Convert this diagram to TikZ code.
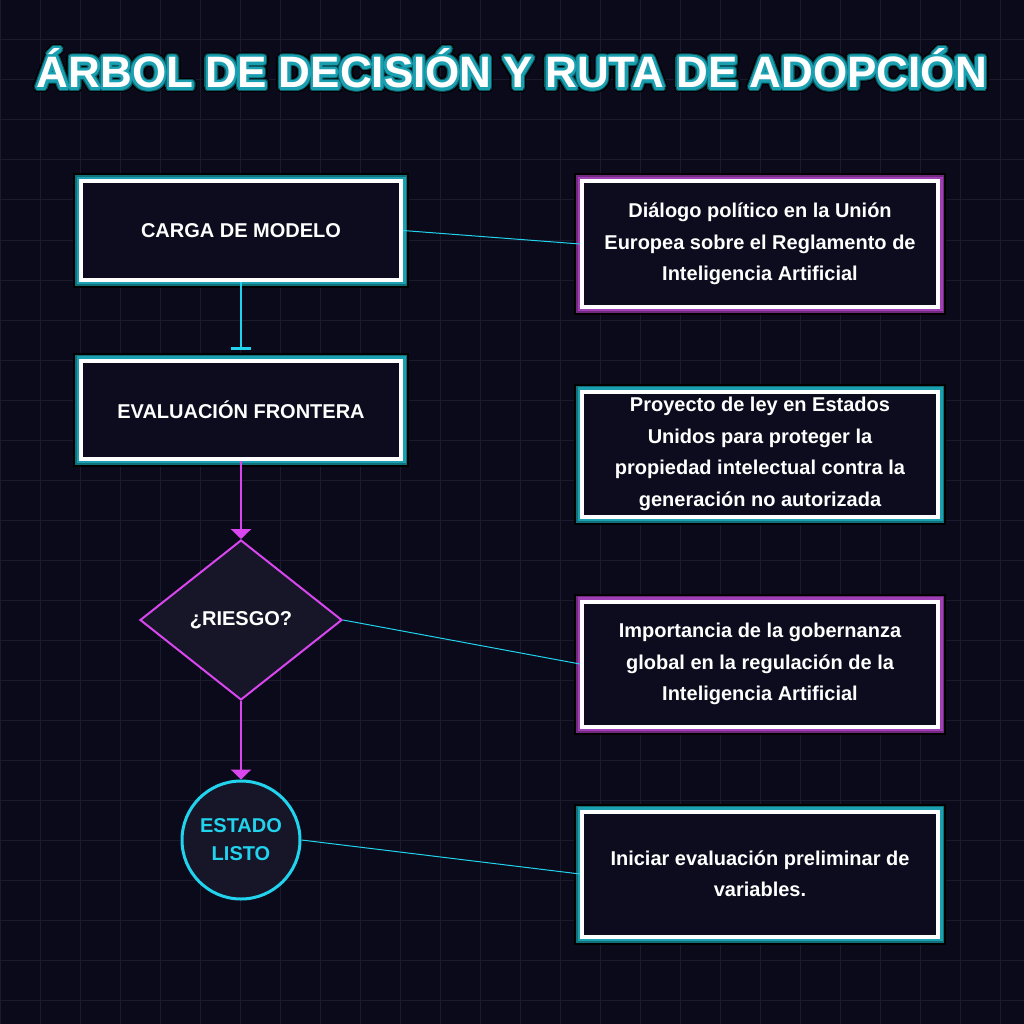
\documentclass[tikz,border=0pt]{standalone}
\usepackage{fontspec}
\setmainfont{Liberation Sans}
\usepackage{tikz}
\usetikzlibrary{calc}
\usetikzlibrary{arrows.meta}
\usetikzlibrary{shapes.geometric,positioning}
\definecolor{bgdark}{RGB}{10,10,26}
\definecolor{gridcol}{RGB}{27,27,45}
\definecolor{panel}{RGB}{12,12,30}
\definecolor{shapefill}{RGB}{22,22,40}
\definecolor{tealglow}{RGB}{26,160,176}
\definecolor{tealdk}{RGB}{11,92,102}
\definecolor{purpleglow}{RGB}{160,62,182}
\definecolor{purpledk}{RGB}{92,31,108}
\definecolor{neonpink}{RGB}{217,70,239}
\definecolor{neoncyan}{RGB}{34,211,238}
\newcommand{\titletext}{ÁRBOL DE DECISIÓN Y RUTA DE ADOPCIÓN}
\tikzset{
    gridline/.style={line width=1pt, gridcol},
    % cajas con brillo de neon
    glowbox/.style={
        rectangle, inner sep=0pt, align=center, text=white,
        font=\bfseries\fontsize{20}{31.5}\selectfont,
        fill=panel, draw=white, line width=4pt,
        preaction={draw=black, line width=16pt},
        preaction={draw=#1!70!black, line width=12pt},
        preaction={draw=#1, line width=9pt}
    },
    stepbox/.style={glowbox=tealglow, minimum width=320pt, minimum height=98pt},
    notebox/.style={glowbox=#1, minimum width=356pt, minimum height=125pt},
    pinkarrow/.style={
        line width=2.7pt, neonpink,
        -{Triangle[length=10pt, width=20pt]}
    },
    cyanbar/.style={
        line width=2.7pt, neoncyan,
        -{Bar[width=20pt, line width=2.7pt]}
    },
    thinlink/.style={line width=1pt, neoncyan}
}
\begin{document}
\begin{tikzpicture}[x=1pt, y=-1pt]
    \useasboundingbox (0,0) rectangle (1024,1024);
    \fill[bgdark] (0,0) rectangle (1024,1024);
    \foreach \g in {0,40,...,1000} {
        \draw[gridline] (\g,0) -- (\g,1024);
        \draw[gridline] (0,\g) -- (1024,\g);
    }

    % titulo
    \foreach \r/\c [count=\k] in {5/black, 3.6/tealdk, 2.4/tealglow} {
        \foreach \a in {0,20,...,340} {
            \node[anchor=base, text=\c, font=\bfseries\fontsize{44}{50}\selectfont]
                (tg\k-\a) at ($(512,88)+(\a:\r)$) {\titletext};
        }
    }
    \node[anchor=base, text=white, font=\bfseries\fontsize{44}{50}\selectfont]
        (title) at (512,88) {\titletext};

    \node[stepbox] (load) at (241,230.5) {CARGA DE MODELO};
    \node[stepbox] (eval) at (241,409.5) {EVALUACIÓN FRONTERA};
    \node[diamond, draw=neonpink, line width=2pt, fill=shapefill, inner sep=0pt,
          minimum width=202pt, minimum height=160pt, text=white,
          font=\bfseries\fontsize{20}{24}\selectfont] (risk) at (241,620) {¿RIESGO?};
    \node[circle, draw=neoncyan, line width=3pt, fill=shapefill, inner sep=0pt,
          minimum size=118pt, align=center, text=neoncyan,
          font=\bfseries\fontsize{20}{28}\selectfont] (ready) at (241,840) {ESTADO\\LISTO};

    \node[notebox=purpleglow] (note1) at (760,244)
        {Diálogo político en la Unión\\Europea sobre el Reglamento de\\Inteligencia Artificial};
    \node[notebox=tealglow] (note2) at (760,454)
        {Proyecto de ley en Estados\\Unidos para proteger la\\propiedad intelectual contra la\\generación no autorizada};
    \node[notebox=purpleglow] (note3) at (760,664)
        {Importancia de la gobernanza\\global en la regulación de la\\Inteligencia Artificial};
    \node[notebox=tealglow] (note4) at (760,874)
        {Iniciar evaluación preliminar de\\variables.};

    \draw[cyanbar, shorten >=9pt] (load.south) -- (eval.north);
    \draw[pinkarrow] (eval.south) -- (risk.north);
    \draw[pinkarrow] (risk.south) -- (ready.north);

    \draw[thinlink] (load.east) -- (note1.west);
    \draw[thinlink] (risk.east) -- (note3.west);
    \draw[thinlink] (ready.east) -- (note4.west);
\end{tikzpicture}
\end{document}
